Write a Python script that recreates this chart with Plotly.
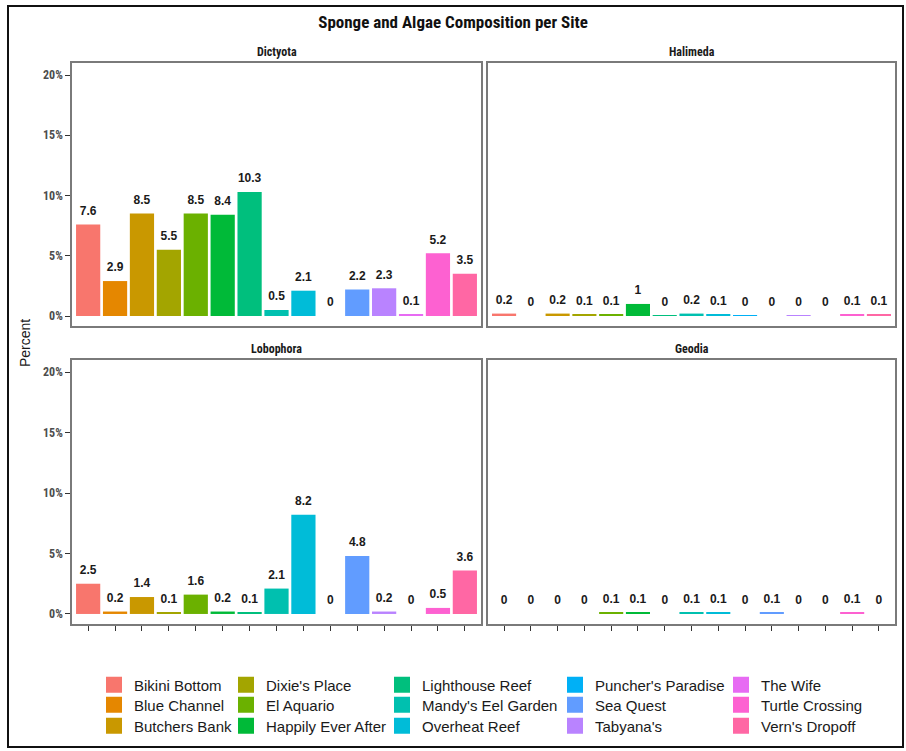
import plotly.graph_objects as go

sites = ["Bikini Bottom", "Blue Channel", "Butchers Bank", "Dixie's Place", "El Aquario",
         "Happily Ever After", "Lighthouse Reef", "Mandy's Eel Garden", "Overheat Reef",
         "Puncher's Paradise", "Sea Quest", "Tabyana's", "The Wife", "Turtle Crossing",
         "Vern's Dropoff"]
colors = ["#F8766D", "#E58700", "#C99800", "#A3A500", "#6BB100", "#00BA38", "#00BF7D",
          "#00C0AF", "#00BCD8", "#00B0F6", "#619CFF", "#B983FF", "#E76BF3", "#FD61D1",
          "#FF67A4"]

dictyota = [7.6, 2.9, 8.5, 5.5, 8.5, 8.4, 10.3, 0.5, 2.1, 0, 2.2, 2.3, 0.1, 5.2, 3.5]
halimeda = [0.2, 0, 0.2, 0.1, 0.1, 1.0, 0.04, 0.2, 0.1, 0.04, 0, 0.04, 0, 0.1, 0.1]
lobophora = [2.5, 0.2, 1.4, 0.1, 1.6, 0.2, 0.1, 2.1, 8.2, 0, 4.8, 0.2, 0, 0.5, 3.6]
geodia = [0, 0, 0, 0, 0.1, 0.1, 0, 0.1, 0.1, 0, 0.1, 0, 0, 0.1, 0]

panels = [("Dictyota", dictyota), ("Halimeda", halimeda),
          ("Lobophora", lobophora), ("Geodia", geodia)]
y_ticks = [0, 5, 10, 15, 20]
y_ticktext = ["0%", "5%", "10%", "15%", "20%"]


def fmt(v):
    r = round(v, 1)
    return str(int(r)) if r == int(r) else f"{r:.1f}"


NARROW = "Roboto Condensed, Liberation Sans Narrow, sans-serif"
SANS = "Liberation Sans, Arial, sans-serif"

fig = go.Figure()

W, H = 906, 751
ML, MR, MT, MB = 72, 11, 63, 127
PW, PH = W - ML - MR, H - MT - MB


def px_x(x):
    return (x - ML) / PW


def px_y(y):
    return (H - MB - y) / PH


xdomains = [[0, px_x(481)], [px_x(488), 1.0]]
ydomains = [[px_y(326), 1.0], [0.0, px_y(360)]]

for i, (name, vals) in enumerate(panels):
    row, col = divmod(i, 2)
    ax = "" if i == 0 else str(i + 1)
    fig.add_trace(go.Bar(
        x=sites, y=vals, marker=dict(color=colors, line=dict(width=0)),
        width=0.9, showlegend=False, hoverinfo="x+y",
        xaxis="x" + ax, yaxis="y" + ax))
    fig.add_trace(go.Scatter(
        x=sites, y=vals, mode="markers+text", text=[fmt(v) for v in vals],
        textposition="top center", marker=dict(size=9, opacity=0),
        textfont=dict(family=SANS, size=12, color="#1a1a1a", weight="bold"),
        showlegend=False, hoverinfo="skip", cliponaxis=False,
        xaxis="x" + ax, yaxis="y" + ax))

    fig.update_layout(**{
        "xaxis" + ax: dict(
            domain=xdomains[col], type="category", categoryorder="array",
            categoryarray=sites, range=[-0.6, 14.6], showgrid=False, zeroline=False,
            showline=True, mirror=True, linecolor="#7a7a7a", linewidth=1.5,
            ticks="outside" if row == 1 else "", ticklen=5, tickwidth=1,
            tickcolor="#333333", showticklabels=False, fixedrange=True,
            anchor="y" + ax),
        "yaxis" + ax: dict(
            domain=ydomains[row], range=[-0.83, 21.0], showgrid=False, zeroline=False,
            showline=True, mirror=True, linecolor="#7a7a7a", linewidth=1.5,
            tickvals=y_ticks, ticktext=y_ticktext,
            ticks="outside" if col == 0 else "", ticklen=5, tickwidth=1,
            tickcolor="#333333", showticklabels=(col == 0),
            tickfont=dict(family=NARROW, size=12, color="#4D4D4D", weight="bold"),
            fixedrange=True, anchor="x" + ax),
    })
    fig.add_annotation(
        text=name, xref="paper", yref="paper",
        x=sum(xdomains[col]) / 2, y=ydomains[row][1],
        xanchor="center", yanchor="bottom",
        yshift=2, showarrow=False,
        font=dict(family=NARROW, size=12, color="#1a1a1a", weight="bold"))

# legend entries: 5 columns x 3 rows, column-major, one small legend per entry
text_start_px = [134, 266, 422, 595, 761]
row_center_px = [685, 705, 726]
for k, (s, c) in enumerate(zip(sites, colors)):
    colk, rowk = divmod(k, 3)
    lg = "legend" if k == 0 else f"legend{k + 1}"
    fig.add_trace(go.Scatter(
        x=[None], y=[None], mode="markers", name=s,
        marker=dict(symbol="square", size=16, color=c, line=dict(width=0)),
        legend=lg, showlegend=True, hoverinfo="skip"))
    fig.update_layout(**{lg: dict(
        orientation="v", xanchor="left", yanchor="middle",
        x=px_x(text_start_px[colk] - 40), y=px_y(row_center_px[rowk]),
        bgcolor="rgba(0,0,0,0)", tracegroupgap=0,
        font=dict(family=SANS, size=15, color="#1a1a1a"))})

fig.add_annotation(
    text="Percent", xref="paper", yref="paper", x=px_x(25), y=px_y(343),
    xanchor="center", yanchor="middle",
    textangle=-90, showarrow=False, font=dict(family=SANS, size=14, color="#1a1a1a"))

# outer frame
fig.add_shape(type="rect", xref="paper", yref="paper",
              x0=px_x(8), x1=px_x(903), y0=px_y(747), y1=px_y(6),
              line=dict(color="#111111", width=2), fillcolor="rgba(0,0,0,0)", layer="below")

fig.update_layout(
    width=W, height=H,
    margin=dict(l=ML, r=MR, t=MT, b=MB, autoexpand=False),
    paper_bgcolor="white", plot_bgcolor="white",
    title=dict(text="Sponge and Algae Composition per Site", x=0.5, xanchor="center",
               xref="container", y=1 - 22 / H, yanchor="middle", yref="container",
               font=dict(family=NARROW, size=17, color="#111111", weight="bold")),
    bargap=0.1, showlegend=True,
)

fig.write_html("out.html", config={"displayModeBar": False},
               post_script="document.body.style.margin='0';document.body.style.overflow='hidden';")
